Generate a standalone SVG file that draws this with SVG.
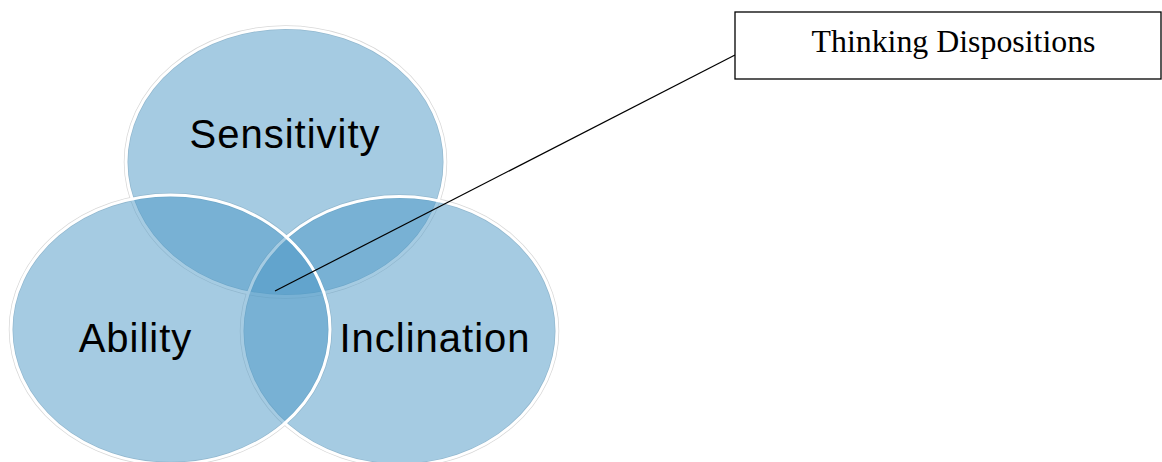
<svg xmlns="http://www.w3.org/2000/svg" width="1162" height="462" viewBox="0 0 1162 462">
<style>
.halo{fill:none;stroke:#d8d8d8;stroke-width:4.5}
.set{fill:#4b97c5;fill-opacity:0.5;stroke:#ffffff;stroke-width:3}
.lbl{font-family:"Liberation Sans",Arial,sans-serif;font-size:40px;letter-spacing:1px;fill:#000;text-anchor:middle}
.box{fill:#fff;stroke:#000;stroke-width:1.3}
.cap{font-family:"Liberation Serif","Times New Roman",serif;font-size:31px;fill:#000;text-anchor:middle}
</style>
<rect width="1162" height="462" fill="#fff"/>
<g id="halos">
<ellipse class="halo" cx="285.5" cy="162" rx="159.5" ry="134.5"/>
<ellipse class="halo" cx="399.5" cy="331" rx="157.5" ry="134.5"/>
<ellipse class="halo" cx="170.5" cy="329.5" rx="159.5" ry="134.5"/>
</g>
<g id="sensitivity">
<ellipse class="set" cx="285.5" cy="162" rx="159.5" ry="134.5"/>
</g>
<g id="inclination">
<ellipse class="set" cx="399.5" cy="331" rx="157.5" ry="134.5"/>
</g>
<g id="ability">
<ellipse class="set" cx="170.5" cy="329.5" rx="159.5" ry="134.5"/>
</g>
<g id="labels">
<text class="lbl" x="285" y="148">Sensitivity</text>
<text class="lbl" x="135.5" y="352">Ability</text>
<text class="lbl" x="435" y="352">Inclination</text>
</g>
<g id="connectors">
<line x1="275" y1="291" x2="735" y2="55" stroke="#000" stroke-width="1.2"/>
</g>
<g id="thinking-dispositions">
<rect class="box" x="735" y="12" width="426" height="67"/>
<text class="cap" x="953.5" y="52" textLength="284" lengthAdjust="spacingAndGlyphs">Thinking Dispositions</text>
</g>
</svg>
